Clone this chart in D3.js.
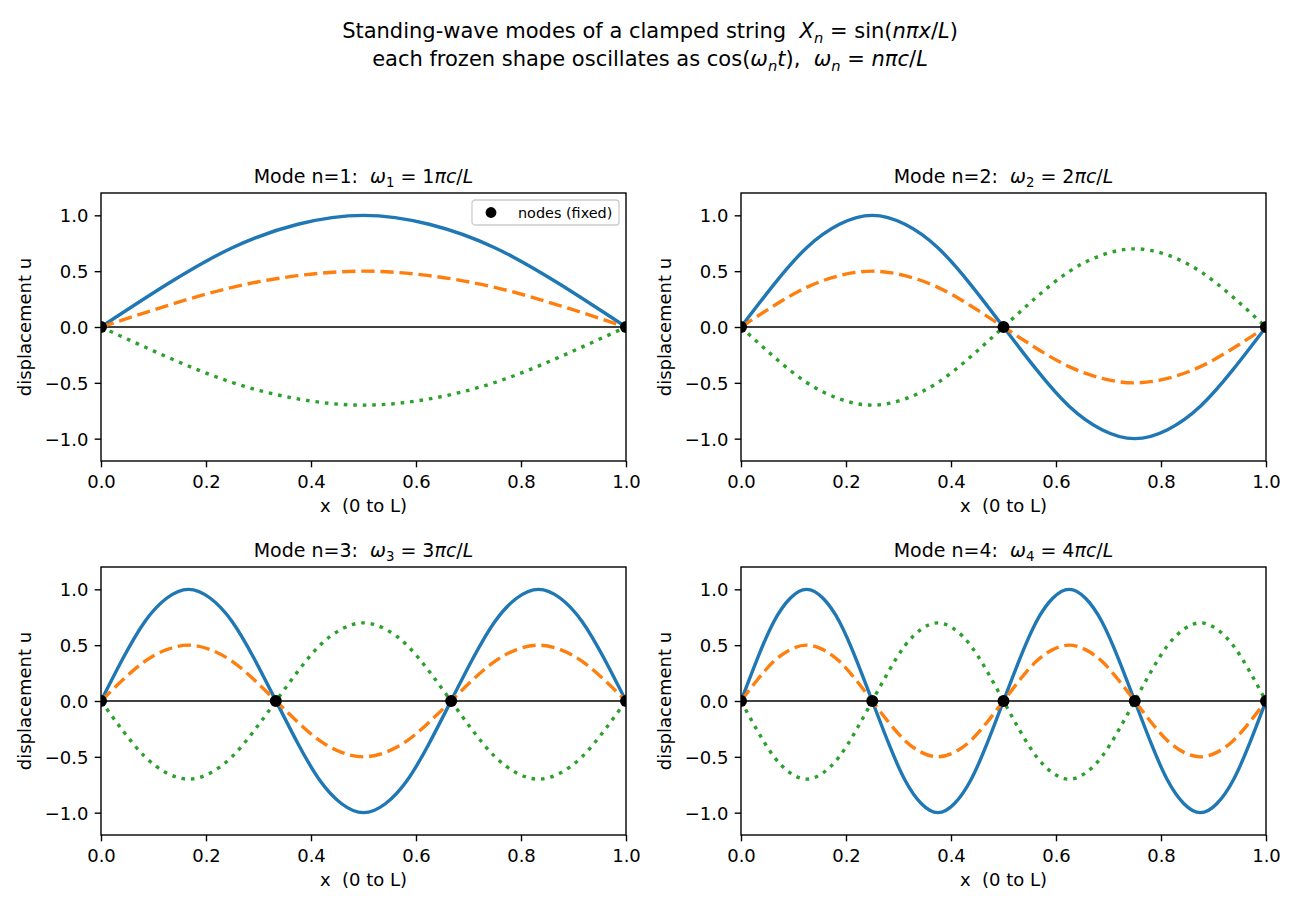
<!DOCTYPE html>
<html>
<head>
<meta charset="utf-8">
<script src="https://cdn.jsdelivr.net/npm/d3@7"></script>
<style>
  html, body { margin: 0; padding: 0; background: #fff; }
  svg { display: block; font-family: "DejaVu Sans", sans-serif; }
  svg text { white-space: pre; }
</style>
</head>
<body>
<svg id="fig" width="1300" height="910"></svg>
<script>
// mode numbers, one panel each
const modes = [1, 2, 3, 4];
// three frozen snapshots of each mode (amplitude of the shape)
const snapshotAmps = [1.0, 0.5, -0.7];
const lobeX = [0, 0.125, 0.25, 0.375, 0.5, 0.625, 0.75, 0.875, 1];
const lobeU = [0, 0.38, 0.71, 0.92, 1.0, 0.92, 0.71, 0.38, 0];
// fixed nodes per mode
const nodeX = [
  [0, 1],
  [0, 0.5, 1],
  [0, 0.333, 0.667, 1],
  [0, 0.25, 0.5, 0.75, 1]
];
const xTicks = [0, 0.2, 0.4, 0.6, 0.8, 1.0];
const yTicks = [-1.0, -0.5, 0, 0.5, 1.0];

const colors = ['#1f77b4', '#ff7f0e', '#2ca02c'];
const dashes = [null, '13.3,5.8', '3.6,5.9'];

const svg = d3.select('#fig');

// write a string with simple mathtext-ish parts into a text element
function rich(sel, parts, size) {
  let shift = 0;
  parts.forEach(function(p) {
    const ts = sel.append('tspan').text(p.t);
    if (p.it) ts.attr('font-style', 'italic');
    let want = p.sub ? size * 0.22 : 0;
    if (p.sub) ts.attr('font-size', size * 0.7);
    if (want !== shift) { ts.attr('dy', want - shift); shift = want; }
  });
}

// suptitle
const sup = svg.append('g').attr('font-size', 21).attr('text-anchor', 'middle').attr('fill', '#000');
rich(sup.append('text').attr('x', 650).attr('y', 38), [
  {t: 'Standing-wave modes of a clamped string  '},
  {t: 'X', it: true}, {t: 'n', it: true, sub: true},
  {t: ' = sin('}, {t: 'nπx', it: true}, {t: '/'}, {t: 'L', it: true}, {t: ')'}
], 21);
rich(sup.append('text').attr('x', 650).attr('y', 66), [
  {t: 'each frozen shape oscillates as cos('},
  {t: 'ω', it: true}, {t: 'n', it: true, sub: true}, {t: 't', it: true},
  {t: '),  '}, {t: 'ω', it: true}, {t: 'n', it: true, sub: true},
  {t: ' = '}, {t: 'nπc', it: true}, {t: '/'}, {t: 'L', it: true}
], 21);

const panelW = 525, panelH = 268;
const origins = [[101, 193], [741, 193], [101, 567], [741, 567]];

modes.forEach(function(n, i) {
  const ox = origins[i][0], oy = origins[i][1];
  const g = svg.append('g').attr('transform', 'translate(' + ox + ',' + oy + ')');
  const x = d3.scaleLinear().domain([0, 1]).range([0, panelW]);
  const y = d3.scaleLinear().domain([-1.2, 1.2]).range([panelH, 0]);

  g.append('clipPath').attr('id', 'clip' + i)
    .append('rect').attr('width', panelW).attr('height', panelH);
  const plot = g.append('g').attr('clip-path', 'url(#clip' + i + ')');

  // zero line
  plot.append('line').attr('x1', 0).attr('x2', panelW)
    .attr('y1', y(0)).attr('y2', y(0))
    .attr('stroke', '#000').attr('stroke-width', 1.3);

  // build the points of mode n by laying lobes end to end
  const shape = [];
  for (let k = 0; k < n; k++) {
    lobeX.forEach(function(lx, j) {
      if (k > 0 && j === 0) return;
      shape.push({x: (k + lx) / n, u: (k % 2 ? -1 : 1) * lobeU[j]});
    });
  }
  const line = d3.line()
    .x(function(d) { return x(d.x); })
    .curve(d3.curveNatural);

  snapshotAmps.forEach(function(a, s) {
    const path = plot.append('path')
      .datum(shape)
      .attr('d', line.y(function(d) { return y(a * d.u); }))
      .attr('fill', 'none')
      .attr('stroke', colors[s])
      .attr('stroke-width', 3.4);
    if (dashes[s]) path.attr('stroke-dasharray', dashes[s]);
  });

  plot.selectAll('circle.node').data(nodeX[i]).enter().append('circle')
    .attr('class', 'node')
    .attr('cx', function(d) { return x(d); })
    .attr('cy', y(0))
    .attr('r', 6)
    .attr('fill', '#000');

  // axes
  const xAxis = g.append('g').attr('transform', 'translate(0,' + panelH + ')')
    .call(d3.axisBottom(x).tickValues(xTicks).tickFormat(d3.format('.1f')).tickSizeInner(6.3).tickSizeOuter(0).tickPadding(6.3));
  const yAxis = g.append('g')
    .call(d3.axisLeft(y).tickValues(yTicks).tickFormat(d3.format('.1f')).tickSizeInner(6.3).tickSizeOuter(0).tickPadding(6.3));
  [xAxis, yAxis].forEach(function(ax) {
    ax.select('.domain').remove();
    ax.selectAll('line').attr('stroke', '#000').attr('stroke-width', 1.4);
    ax.selectAll('text').attr('font-size', 18).attr('fill', '#000')
      .attr('font-family', '"DejaVu Sans", sans-serif');
  });
  xAxis.selectAll('text').attr('dy', null).attr('y', 27);
  yAxis.selectAll('text').attr('dy', '0.36em');

  g.append('rect').attr('width', panelW).attr('height', panelH)
    .attr('fill', 'none').attr('stroke', '#000').attr('stroke-width', 1.4);

  // titles and labels
  rich(g.append('text').attr('x', panelW / 2).attr('y', -10.5)
    .attr('text-anchor', 'middle').attr('font-size', 19), [
    {t: 'Mode n=' + n + ':  '}, {t: 'ω', it: true}, {t: String(n), sub: true},
    {t: ' = ' + n}, {t: 'πc', it: true}, {t: '/'}, {t: 'L', it: true}
  ], 19);
  g.append('text').attr('x', panelW / 2).attr('y', panelH + 51)
    .attr('text-anchor', 'middle').attr('font-size', 18).text('x  (0 to L)');
  g.append('text')
    .attr('transform', 'translate(' + (31 - 101) + ',' + (panelH / 2) + ') rotate(-90)')
    .attr('text-anchor', 'middle').attr('font-size', 18).text('displacement u');

  if (i === 0) {
    const lg = g.append('g').attr('transform', 'translate(' + (panelW - 154) + ',7)');
    lg.append('rect').attr('width', 147).attr('height', 25).attr('rx', 3)
      .attr('fill', '#fff').attr('fill-opacity', 0.8)
      .attr('stroke', '#ccc').attr('stroke-width', 1.3);
    lg.append('circle').attr('cx', 19).attr('cy', 12.5).attr('r', 5.4).attr('fill', '#000');
    lg.append('text').attr('x', 46).attr('y', 17.5).attr('font-size', 14.4).text('nodes (fixed)');
  }
});
</script>
</body>
</html>
